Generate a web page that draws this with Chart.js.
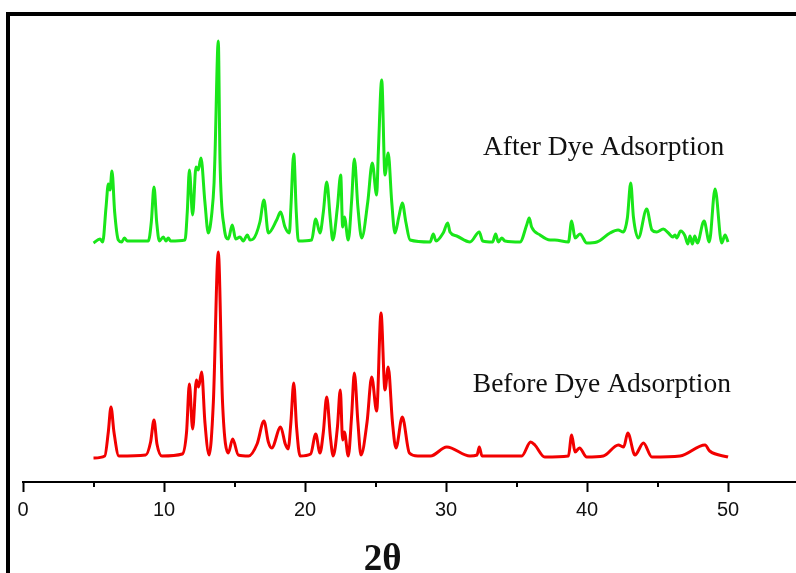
<!DOCTYPE html>
<html>
<meta charset="UTF-8">
<title>XRD Before / After Dye Adsorption</title>
<style type="text/css">
	html,
	body {
		margin: 0px;
		background: #ffffff;
	}

	.container {
		width: 796px;
		height: 573px;
	}
</style>
<script src="https://cdn.jsdelivr.net/npm/chart.js"></script>

<body>

	<div class="container"><canvas id="xrd"></canvas></div>

	<script>

		// 2theta (deg) and intensity (a.u., curves stacked)
		var beforeAngle = [5.0, 5.8, 6.05, 6.24, 6.45, 6.8, 8.7, 9.05, 9.29, 9.5, 9.85, 11.3, 11.6, 11.8, 12.03, 12.3, 12.45, 12.67, 12.9, 13.2,
			13.5, 13.85, 14.15, 14.56, 14.87, 15.27, 16.0, 16.6, 17.09, 17.4, 17.64, 18.27, 18.6, 18.8, 19.0, 19.2, 19.4, 19.65, 20.4, 20.76,
			21.06, 21.3, 21.54, 21.8, 22.0, 22.3, 22.5, 22.67, 22.79, 23.07, 23.3, 23.5, 23.75, 23.97, 24.4, 24.73, 25.08, 25.39, 25.67, 25.9,
			26.2, 26.45, 26.9, 27.4, 28.0, 28.9, 30.05, 31.7, 32.2, 32.36, 32.55, 35.37, 36.0, 36.3, 37.0, 38.68, 38.91, 39.15, 39.46, 39.98,
			41.16, 42.22, 42.6, 42.89, 43.4, 44.0, 44.6, 46.6, 48.37, 48.7, 50.0];
		var beforeIntensity = [24, 26, 50, 75, 50, 26, 27, 40, 62, 38, 26, 28, 50, 98, 53, 102, 95, 110, 60, 27,
			80, 230, 80, 29, 43, 27, 26, 38, 61, 40, 34, 55, 38, 33, 60, 99, 55, 26, 28, 48,
			29, 50, 85, 45, 26, 55, 92, 42, 50, 26, 65, 109, 60, 27, 60, 105, 71, 169, 92, 115,
			60, 34, 65, 29, 26, 26, 35, 26, 27, 35, 26, 26, 40, 37, 25, 26, 47, 30, 34, 25,
			26, 37, 35, 49, 27, 39, 25, 26, 37, 31, 25];

		var afterAngle = [5.0, 5.46, 5.65, 5.89, 6.05, 6.17, 6.31, 6.5, 6.76, 7.0, 7.19, 7.4, 8.89, 9.1, 9.29, 9.48, 9.67, 9.95, 10.14, 10.3,
			10.47, 11.49, 11.65, 11.8, 12.03, 12.27, 12.43, 12.62, 12.9, 13.14, 13.4, 13.55, 13.62, 13.85, 13.97, 14.26, 14.56, 14.84, 15.08, 15.39,
			15.62, 15.91, 16.1, 16.33, 16.8, 17.09, 17.4, 17.99, 18.27, 18.58, 18.89, 19.0, 19.2, 19.38, 19.53, 20.47, 20.76, 21.06, 21.3, 21.54,
			21.8, 21.97, 22.3, 22.53, 22.67, 22.79, 23.07, 23.3, 23.5, 23.75, 24.02, 24.45, 24.77, 25.08, 25.2, 25.44, 25.67, 25.9, 26.15, 26.38,
			26.65, 26.9, 27.15, 27.45, 28.87, 29.1, 29.29, 29.8, 30.12, 30.28, 30.76, 31.7, 32.36, 32.6, 33.3, 33.52, 33.71, 33.95, 34.18, 35.25,
			35.72, 35.9, 36.07, 36.67, 37.38, 37.72, 38.68, 38.91, 39.15, 39.5, 39.98, 40.7, 41.63, 42.2, 42.57, 42.86, 43.1, 43.29, 43.64, 44.23,
			44.6, 44.94, 45.41, 45.77, 46.08, 46.24, 46.36, 46.64, 46.95, 47.14, 47.3, 47.47, 47.64, 47.82, 48.3, 48.67, 49.08, 49.55, 49.79, 50.0];
		var afterIntensity = [239, 243, 240, 275, 298, 292, 311, 270, 242, 240, 244, 241, 241, 260, 295, 260, 241, 245, 241, 244,
			241, 242, 270, 312, 267, 315, 312, 324, 280, 249, 270, 299, 329, 441, 322, 255, 243, 257, 243, 245,
			241, 247, 242, 243, 260, 282, 249, 262, 270, 255, 249, 275, 328, 270, 241, 242, 263, 249, 270, 300,
			262, 242, 275, 307, 255, 265, 242, 280, 323, 275, 244, 280, 319, 287, 330, 402, 307, 329, 280, 249,
			265, 279, 260, 242, 240, 248, 241, 249, 259, 250, 246, 240, 250, 241, 240, 248, 240, 244, 241, 240,
			257, 264, 255, 247, 242, 242, 240, 261, 244, 248, 239, 240, 249, 252, 250, 264, 299, 265, 244, 273,
			252, 250, 253, 249, 245, 247, 244, 251, 246, 238, 246, 238, 246, 239, 261, 240, 293, 239, 247, 240];

		var xTicks = [0, 10, 20, 30, 40, 50];
		var xMinorTicks = [5, 15, 25, 35, 45];
		var xMin = 0;
		var xMax = 54.82;
		var yMax = 466;

		var beforeLabel = 'Before Dye Adsorption';
		var afterLabel = 'After Dye Adsorption';

		function toPoints(xs, ys) {
			var pts = [];
			for (var i = 0; i < xs.length; i++) {
				pts.push({ x: xs[i], y: ys[i] });
			}
			return pts;
		}

		// frame, minor ticks, curve labels and the 2theta title
		var decorations = {
			id: 'decorations',
			afterDraw: function (chart) {
				var ctx = chart.ctx;
				var xs = chart.scales.x;
				var ys = chart.scales.y;
				ctx.save();
				ctx.strokeStyle = '#000';
				ctx.lineWidth = 4;
				ctx.beginPath();
				ctx.moveTo(8, 600);
				ctx.lineTo(8, 14);
				ctx.lineTo(800, 14);
				ctx.stroke();

				ctx.lineWidth = 2;
				for (var i = 0; i < xMinorTicks.length; i++) {
					var px = Math.round(xs.getPixelForValue(xMinorTicks[i]));
					ctx.beginPath();
					ctx.moveTo(px, xs.top);
					ctx.lineTo(px, xs.top + 5);
					ctx.stroke();
				}

				ctx.fillStyle = '#111';
				ctx.font = '27.5px "Liberation Serif", "Times New Roman", serif';
				ctx.textBaseline = 'alphabetic';
				ctx.fillText(afterLabel, xs.getPixelForValue(32.62), ys.getPixelForValue(327));
				ctx.fillText(beforeLabel, xs.getPixelForValue(31.9), ys.getPixelForValue(90));

				ctx.font = 'bold 37px "Liberation Serif", "Times New Roman", serif';
				ctx.textAlign = 'center';
				ctx.fillText('2\u03b8', xs.getPixelForValue(25.5), 570);
				ctx.restore();
			}
		};

		var config = {
			type: 'line',
			data: {
				datasets: [
					{
						label: afterLabel,
						data: toPoints(afterAngle, afterIntensity),
						borderColor: '#19e619',
						borderWidth: 3,
						pointRadius: 0,
						cubicInterpolationMode: 'monotone',
						fill: false
					},
					{
						label: beforeLabel,
						data: toPoints(beforeAngle, beforeIntensity),
						borderColor: '#f20000',
						borderWidth: 3,
						pointRadius: 0,
						cubicInterpolationMode: 'monotone',
						fill: false
					}
				]
			},
			options: {
				responsive: true,
				maintainAspectRatio: false,
				animation: false,
				layout: {
					padding: { top: 16, left: 23, right: 0, bottom: 0 }
				},
				plugins: {
					legend: { display: false },
					tooltip: { enabled: false }
				},
				scales: {
					x: {
						type: 'linear',
						min: xMin,
						max: xMax,
						afterBuildTicks: function (scale) {
							scale.ticks = xTicks.map(function (v) { return { value: v }; });
						},
						afterFit: function (scale) {
							scale.height = 91;
						},
						ticks: {
							includeBounds: false,
							color: '#111',
							padding: 6,
							maxRotation: 0,
							font: { family: '"Liberation Sans", Arial, sans-serif', size: 20 }
						},
						grid: {
							display: true,
							drawOnChartArea: false,
							drawTicks: true,
							tickLength: 10,
							tickWidth: 2,
							tickColor: '#000'
						},
						border: {
							display: true,
							color: '#000',
							width: 2
						}
					},
					y: {
						display: false,
						min: 0,
						max: yMax
					}
				}
			},
			plugins: [decorations]
		};

		var xrdChart = new Chart(document.getElementById('xrd'), config);

	</script>
</body>

</html>
